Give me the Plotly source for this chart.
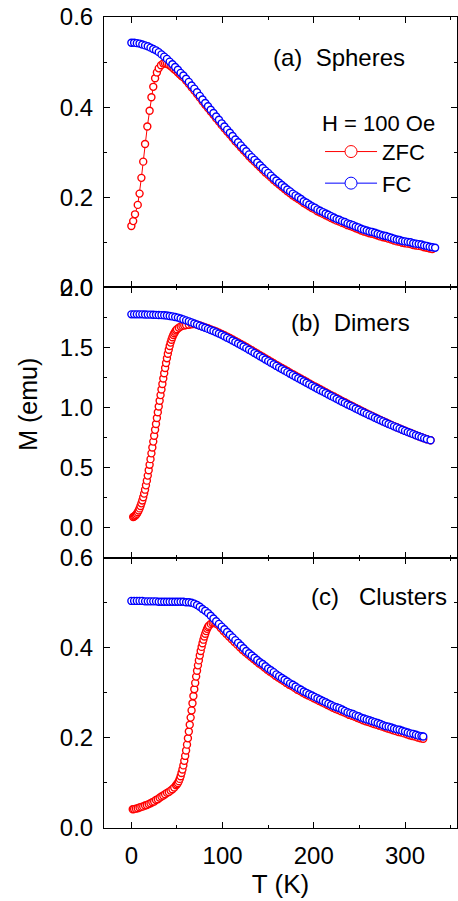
import plotly.graph_objects as go
from plotly.subplots import make_subplots

# ---------------- data ----------------
# Panel (a) Spheres
T_fc_a = [0, 3, 6, 9, 12, 15, 18, 21, 24, 27, 30, 33, 36, 39, 42, 45, 48, 51, 54, 57, 60, 63,
          66, 69, 72, 75, 78, 81, 84, 87, 90, 93, 96, 99, 102, 105, 108, 111, 114, 117, 120,
          123, 126, 129, 132, 135, 138, 141, 144, 147, 150, 153, 156, 159, 162, 165, 168, 171,
          174, 177, 180, 183, 186, 189, 192, 195, 198, 201, 204, 207, 210, 213, 216, 219, 222,
          225, 228, 231, 234, 237, 240, 243, 246, 249, 252, 255, 258, 261, 264, 267, 270, 273,
          276, 279, 282, 285, 288, 291, 294, 297, 300, 303, 306, 309, 312, 315, 318, 321, 324,
          327, 330, 333]
M_fc_a = [0.543, 0.543, 0.542, 0.541, 0.539, 0.537, 0.535, 0.532, 0.529, 0.526, 0.522, 0.517,
          0.512, 0.507, 0.501, 0.495, 0.489, 0.483, 0.476, 0.470, 0.463, 0.456, 0.448, 0.441,
          0.433, 0.425, 0.417, 0.409, 0.402, 0.394, 0.387, 0.379, 0.372, 0.364, 0.357, 0.350,
          0.343, 0.336, 0.328, 0.322, 0.315, 0.308, 0.302, 0.295, 0.289, 0.283, 0.277, 0.271,
          0.265, 0.259, 0.254, 0.248, 0.242, 0.237, 0.232, 0.227, 0.222, 0.217, 0.213, 0.208,
          0.204, 0.200, 0.196, 0.191, 0.188, 0.184, 0.180, 0.177, 0.173, 0.170, 0.167, 0.164,
          0.161, 0.158, 0.155, 0.152, 0.150, 0.147, 0.145, 0.142, 0.140, 0.138, 0.135, 0.133,
          0.130, 0.128, 0.126, 0.124, 0.123, 0.121, 0.119, 0.117, 0.115, 0.114, 0.112, 0.110,
          0.108, 0.106, 0.105, 0.103, 0.102, 0.101, 0.100, 0.098, 0.097, 0.096, 0.095, 0.093,
          0.092, 0.090, 0.089, 0.088]
T_zfc_a = [0, 2, 4, 7, 9, 11, 13, 15, 17.5, 20, 22, 24, 26, 28, 30, 32.5, 35, 37, 39, 41, 43,
           45, 47, 49, 51, 53, 55, 57, 60, 63, 66, 69, 72, 75, 78, 81, 84, 87, 90, 93, 96, 99,
           102, 105, 108, 111, 114, 117, 120, 123, 126, 129, 132, 135, 138, 141, 144, 147, 150,
           153, 156, 159, 162, 165, 168, 171, 174, 177, 180, 183, 186, 189, 192, 195, 198, 201,
           204, 207, 210, 213, 216, 219, 222, 225, 228, 231, 234, 237, 240, 243, 246, 249, 252,
           255, 258, 261, 264, 267, 270, 273, 276, 279, 282, 285, 288, 291, 294, 297, 300, 303,
           306, 309, 312, 315, 318, 321, 324, 327, 330]
M_zfc_a = [0.136, 0.147, 0.162, 0.183, 0.208, 0.243, 0.279, 0.318, 0.357, 0.392, 0.422, 0.445,
           0.464, 0.477, 0.486, 0.493, 0.497, 0.497, 0.496, 0.494, 0.491, 0.488, 0.484, 0.481,
           0.477, 0.473, 0.469, 0.466, 0.459, 0.452, 0.444, 0.437, 0.429, 0.421, 0.413, 0.405,
           0.398, 0.390, 0.383, 0.375, 0.368, 0.360, 0.353, 0.346, 0.339, 0.332, 0.324, 0.318,
           0.311, 0.304, 0.298, 0.291, 0.285, 0.279, 0.273, 0.267, 0.261, 0.255, 0.250, 0.244,
           0.238, 0.233, 0.228, 0.223, 0.218, 0.213, 0.209, 0.204, 0.200, 0.196, 0.192, 0.187,
           0.184, 0.180, 0.176, 0.173, 0.169, 0.166, 0.163, 0.160, 0.157, 0.154, 0.151, 0.148,
           0.146, 0.143, 0.141, 0.138, 0.136, 0.134, 0.131, 0.129, 0.126, 0.124, 0.122, 0.120,
           0.119, 0.117, 0.115, 0.113, 0.111, 0.110, 0.108, 0.106, 0.104, 0.102, 0.101, 0.099,
           0.098, 0.097, 0.096, 0.094, 0.093, 0.092, 0.091, 0.089, 0.088, 0.086, 0.085]

# Panel (b) Dimers
T_fc_b = [0, 3, 6, 9, 12, 15, 18, 21, 24, 27, 30, 33, 36, 39, 42, 45, 48, 51, 54, 57, 60, 63,
          66, 69, 72, 75, 78, 81, 84, 87, 90, 93, 96, 99, 102, 105, 108, 111, 114, 117, 120,
          123, 126, 129, 132, 135, 138, 141, 144, 147, 150, 153, 156, 159, 162, 165, 168, 171,
          174, 177, 180, 183, 186, 189, 192, 195, 198, 201, 204, 207, 210, 213, 216, 219, 222,
          225, 228, 231, 234, 237, 240, 243, 246, 249, 252, 255, 258, 261, 264, 267, 270, 273,
          276, 279, 282, 285, 288, 291, 294, 297, 300, 303, 306, 309, 312, 315, 318, 321, 324,
          328]
M_fc_b = [1.775, 1.775, 1.775, 1.775, 1.775, 1.774, 1.773, 1.773, 1.772, 1.771, 1.770, 1.769,
          1.767, 1.766, 1.762, 1.758, 1.753, 1.748, 1.740, 1.733, 1.725, 1.717, 1.708, 1.699,
          1.690, 1.681, 1.672, 1.663, 1.654, 1.645, 1.636, 1.626, 1.615, 1.605, 1.593, 1.581,
          1.569, 1.557, 1.545, 1.533, 1.520, 1.507, 1.494, 1.480, 1.467, 1.453, 1.440, 1.426,
          1.413, 1.399, 1.386, 1.373, 1.360, 1.346, 1.333, 1.320, 1.307, 1.294, 1.281, 1.269,
          1.256, 1.243, 1.231, 1.218, 1.206, 1.193, 1.180, 1.168, 1.156, 1.144, 1.132, 1.120,
          1.108, 1.096, 1.084, 1.072, 1.060, 1.048, 1.037, 1.025, 1.014, 1.003, 0.991, 0.980,
          0.969, 0.958, 0.947, 0.936, 0.926, 0.915, 0.904, 0.894, 0.884, 0.873, 0.863, 0.853,
          0.843, 0.834, 0.824, 0.815, 0.805, 0.796, 0.787, 0.778, 0.769, 0.760, 0.752, 0.743,
          0.736, 0.727]
T_zfc_b = [2, 3, 4, 5, 6, 7, 8, 9, 10, 11, 12, 13, 14, 15, 16, 17, 18, 19, 20, 21, 22, 23,
           24, 25, 26, 27, 28, 29, 30, 31, 32, 33, 34, 35, 36, 37, 38, 39, 40, 41, 42, 43, 44,
           45, 46, 47, 48, 49, 50, 52, 54, 56, 58, 60, 63, 66, 69, 72, 75, 78, 81, 84, 87, 90,
           93, 96, 99, 102, 105, 108, 111, 114, 117, 120, 123, 126, 129, 132, 135, 138, 141,
           144, 147, 150, 153, 156, 159, 162, 165, 168, 171, 174, 177, 180, 183, 186, 189, 192,
           195, 198, 201, 204, 207, 210, 213, 216, 219, 222, 225, 228, 231, 234, 237, 240, 243,
           246, 249, 252, 255, 258, 261, 264, 267, 270, 273, 276, 279, 282, 285, 288, 291, 294,
           297, 300, 303, 306, 309, 312, 315, 318, 321, 324, 328]
M_zfc_b = [0.089, 0.093, 0.098, 0.105, 0.115, 0.128, 0.143, 0.160, 0.180, 0.202, 0.226, 0.253,
           0.283, 0.316, 0.352, 0.391, 0.433, 0.477, 0.523, 0.570, 0.618, 0.667, 0.716, 0.765,
           0.814, 0.863, 0.912, 0.960, 1.008, 1.056, 1.103, 1.150, 1.196, 1.241, 1.285, 1.328,
           1.370, 1.410, 1.447, 1.481, 1.512, 1.540, 1.564, 1.585, 1.603, 1.618, 1.631, 1.642,
           1.651, 1.664, 1.673, 1.679, 1.683, 1.686, 1.689, 1.692, 1.695, 1.690, 1.683, 1.675,
           1.667, 1.659, 1.650, 1.642, 1.632, 1.622, 1.612, 1.601, 1.590, 1.578, 1.566, 1.554,
           1.542, 1.529, 1.516, 1.503, 1.489, 1.476, 1.462, 1.449, 1.435, 1.422, 1.408, 1.395,
           1.382, 1.369, 1.355, 1.342, 1.329, 1.316, 1.303, 1.290, 1.278, 1.265, 1.252, 1.239,
           1.226, 1.214, 1.201, 1.188, 1.176, 1.164, 1.152, 1.140, 1.127, 1.115, 1.103, 1.091,
           1.079, 1.067, 1.055, 1.043, 1.031, 1.020, 1.008, 0.996, 0.985, 0.973, 0.962, 0.951,
           0.940, 0.929, 0.918, 0.907, 0.897, 0.886, 0.876, 0.865, 0.855, 0.845, 0.836, 0.826,
           0.816, 0.806, 0.797, 0.788, 0.779, 0.770, 0.761, 0.752, 0.744, 0.736, 0.727]

# Panel (c) Clusters
T_fc_c = [0, 3, 6, 9, 12, 15, 18, 21, 24, 27, 30, 33, 36, 39, 42, 45, 48, 51, 54, 57, 60, 63,
          66, 69, 72, 75, 78, 81, 84, 87, 90, 93, 96, 99, 102, 105, 108, 111, 114, 117, 120,
          123, 126, 129, 132, 135, 138, 141, 144, 147, 150, 153, 156, 159, 162, 165, 168, 171,
          174, 177, 180, 183, 186, 189, 192, 195, 198, 201, 204, 207, 210, 213, 216, 219, 222,
          225, 228, 231, 234, 237, 240, 243, 246, 249, 252, 255, 258, 261, 264, 267, 270, 273,
          276, 279, 282, 285, 288, 291, 294, 297, 300, 303, 306, 309, 312, 315, 318, 320]
M_fc_c = [0.504, 0.504, 0.504, 0.504, 0.504, 0.503, 0.503, 0.503, 0.503, 0.503, 0.502, 0.502,
          0.502, 0.502, 0.502, 0.502, 0.502, 0.502, 0.502, 0.502, 0.501, 0.501, 0.500, 0.498,
          0.495, 0.491, 0.486, 0.482, 0.477, 0.471, 0.465, 0.459, 0.453, 0.447, 0.441, 0.435,
          0.429, 0.423, 0.417, 0.411, 0.405, 0.399, 0.393, 0.388, 0.383, 0.378, 0.373, 0.368,
          0.364, 0.359, 0.354, 0.350, 0.346, 0.341, 0.337, 0.333, 0.329, 0.325, 0.321, 0.318,
          0.314, 0.310, 0.307, 0.303, 0.300, 0.297, 0.294, 0.291, 0.288, 0.285, 0.282, 0.279,
          0.276, 0.273, 0.270, 0.268, 0.266, 0.263, 0.260, 0.257, 0.255, 0.253, 0.250, 0.248,
          0.245, 0.243, 0.241, 0.239, 0.237, 0.235, 0.233, 0.231, 0.228, 0.226, 0.225, 0.223,
          0.221, 0.219, 0.218, 0.216, 0.214, 0.212, 0.210, 0.209, 0.207, 0.205, 0.204, 0.203]
T_zfc_c = [1.5, 3, 5, 7, 9, 11, 13, 15, 17, 19, 21, 23, 25, 27, 29, 31, 33, 35, 37, 39, 41,
           43, 45, 47, 49, 50, 51, 52, 53, 54, 55, 56, 57, 58, 59, 60, 61, 62, 63, 64, 65, 66,
           67, 68, 69, 70, 71, 72, 73, 74, 75, 76, 77, 78, 79, 80, 81, 82, 83, 84, 85, 87, 89,
           91, 93, 95, 98, 101, 104, 107, 110, 113, 116, 119, 122, 125, 128, 131, 134, 137, 140,
           143, 146, 149, 152, 155, 158, 161, 164, 167, 170, 173, 176, 179, 182, 185, 188, 191,
           194, 197, 200, 203, 206, 209, 212, 215, 218, 221, 224, 227, 230, 233, 236, 239, 242,
           245, 248, 251, 254, 257, 260, 263, 266, 269, 272, 275, 278, 281, 284, 287, 290, 293,
           296, 299, 302, 305, 308, 311, 314, 317, 320]
M_zfc_c = [0.0415, 0.042, 0.043, 0.044, 0.0455, 0.047, 0.048, 0.050, 0.051, 0.053, 0.055,
           0.057, 0.059, 0.062, 0.064, 0.067, 0.070, 0.072, 0.075, 0.078, 0.080, 0.083, 0.086,
           0.090, 0.095, 0.097, 0.100, 0.104, 0.109, 0.115, 0.122, 0.130, 0.139, 0.149, 0.160,
           0.172, 0.185, 0.199, 0.214, 0.229, 0.245, 0.261, 0.277, 0.293, 0.308, 0.322, 0.336,
           0.349, 0.361, 0.372, 0.383, 0.393, 0.402, 0.410, 0.418, 0.425, 0.431, 0.437, 0.442,
           0.446, 0.449, 0.453, 0.455, 0.455, 0.454, 0.451, 0.444, 0.437, 0.431, 0.425, 0.419,
           0.413, 0.407, 0.401, 0.395, 0.390, 0.385, 0.380, 0.375, 0.370, 0.365, 0.361, 0.356,
           0.351, 0.347, 0.343, 0.338, 0.334, 0.330, 0.326, 0.322, 0.318, 0.315, 0.311, 0.307,
           0.304, 0.300, 0.297, 0.294, 0.291, 0.288, 0.285, 0.282, 0.279, 0.276, 0.273, 0.270,
           0.267, 0.264, 0.262, 0.259, 0.257, 0.254, 0.251, 0.249, 0.247, 0.244, 0.242, 0.239,
           0.237, 0.235, 0.233, 0.231, 0.229, 0.227, 0.225, 0.223, 0.221, 0.219, 0.217, 0.215,
           0.213, 0.212, 0.210, 0.208, 0.206, 0.204, 0.203, 0.201, 0.199, 0.198]

panel_labels = ["(a)  Spheres", "(b)  Dimers", "(c)   Clusters"]
series_names = ["ZFC", "FC"]
legend_title = "H = 100 Oe"
x_title = "T (K)"
y_title = "M (emu)"
x_ticks = [0, 100, 200, 300]

# ---------------- styling ----------------
RED = "#FF0000"
BLUE = "#0000FF"
FONT = "Liberation Sans, Arial, sans-serif"

fig = make_subplots(rows=3, cols=1, shared_xaxes=True, vertical_spacing=0)

panels = [
    (T_zfc_a, M_zfc_a, T_fc_a, M_fc_a),
    (T_zfc_b, M_zfc_b, T_fc_b, M_fc_b),
    (T_zfc_c, M_zfc_c, T_fc_c, M_fc_c),
]

for i, (tz, mz, tf, mf) in enumerate(panels, start=1):
    for t, m, col in ((tz, mz, RED), (tf, mf, BLUE)):
        fig.add_trace(go.Scatter(
            x=t, y=m, mode="lines+markers", showlegend=False,
            line=dict(color=col, width=1),
            marker=dict(symbol="circle", size=7, color="white",
                        line=dict(color=col, width=1.4)),
        ), row=i, col=1)

# legend entries
for name, col in zip(series_names, (RED, BLUE)):
    fig.add_trace(go.Scatter(
        x=[None], y=[None], mode="lines+markers", name=name,
        line=dict(color=col, width=1),
        marker=dict(symbol="circle", size=12, color="white",
                    line=dict(color=col, width=1)),
    ), row=1, col=1)

axis_common = dict(
    showline=True, linecolor="black", linewidth=1, mirror="allticks",
    ticks="inside", ticklen=6, tickwidth=1, tickcolor="black",
    showgrid=False, zeroline=False,
    tickfont=dict(family=FONT, size=24, color="black"),
)

for i in range(1, 4):
    fig.update_xaxes(range=[-30, 357], tickvals=x_ticks,
                     minor=dict(dtick=50, tick0=0, ticks="inside", ticklen=3,
                                tickcolor="black", tickwidth=1),
                     showticklabels=(i == 3), ticklabelstandoff=6,
                     row=i, col=1, **axis_common)

y_specs = [
    dict(range=[0, 0.6], dtick=0.2, tick0=0, tickformat=".1f", minor=0.1),
    dict(range=[-0.25, 2.0], dtick=0.5, tick0=0, tickformat=".1f", minor=0.25),
    dict(range=[0, 0.6], dtick=0.2, tick0=0, tickformat=".1f", minor=0.1),
]
for i, s in enumerate(y_specs, start=1):
    fig.update_yaxes(range=s["range"], dtick=s["dtick"], tick0=s["tick0"],
                     tickformat=s["tickformat"], ticklabelstandoff=5,
                     minor=dict(dtick=s["minor"], tick0=0, ticks="inside", ticklen=3,
                                tickcolor="black", tickwidth=1),
                     row=i, col=1, **axis_common)

fig.update_xaxes(title=dict(text=x_title, font=dict(family=FONT, size=26, color="black"),
                            standoff=4), row=3, col=1)

# panel labels
label_pos = [(228, 0.51, "x", "y"), (240, 1.71, "x2", "y2"), (272, 0.513, "x3", "y3")]
for (tx, my, xr, yr), txt in zip(label_pos, panel_labels):
    fig.add_annotation(x=tx, y=my, xref=xr, yref=yr, text=txt, showarrow=False,
                       xanchor="center", yanchor="middle",
                       font=dict(family=FONT, size=24, color="black"))

# y-axis title
fig.add_annotation(x=-0.215, y=0.522, xref="paper", yref="paper", text=y_title,
                   showarrow=False, textangle=-90, xanchor="center", yanchor="middle",
                   font=dict(family=FONT, size=25, color="black"))

fig.update_layout(
    width=458, height=901,
    margin=dict(l=104, r=1, t=17, b=73),
    paper_bgcolor="white", plot_bgcolor="white",
    font=dict(family=FONT, color="black"),
    legend=dict(x=0.612, y=0.895, xanchor="left", yanchor="top",
                bgcolor="rgba(0,0,0,0)", borderwidth=0,
                font=dict(family=FONT, size=22, color="black"),
                title=dict(text=legend_title, font=dict(family=FONT, size=22, color="black")),
                tracegroupgap=0, itemwidth=52),
)

fig.write_html("out.html")
